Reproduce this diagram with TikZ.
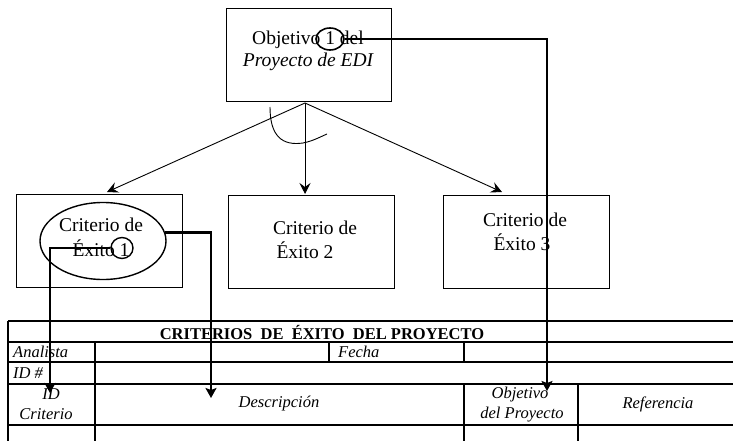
\documentclass[tikz,border=0pt]{standalone}
\usepackage{fontspec}
\setmainfont{Liberation Serif}
\usetikzlibrary{arrows.meta,shapes.geometric}
\begin{document}
\begin{tikzpicture}[x=1pt,y=-1pt,
  box/.style={draw, line width=1pt, inner sep=0, minimum width=165pt, minimum height=93pt},
  thinarrow/.style={line width=0.9pt, -{Stealth[length=11pt,width=11pt,inset=4pt]}},
  thickconn/.style={line width=2.8pt, -{Stealth[length=10pt,width=11pt,inset=2pt]}},
  tline/.style={line width=1.2pt},
  big/.style={font=\fontsize{19.5}{22}\selectfont, inner sep=0},
  tab/.style={font=\fontsize{16.5}{18}\selectfont, inner sep=0},
  mark1/.style={draw, ellipse, line width=1.6pt, inner sep=0},
]
\useasboundingbox (0,0) rectangle (733,441);

% top box
\node[box] (obj) at (308.5,55.5) {};
\node[big] (objt1) at (308,40) {Objetivo 1 del};
\node[big] (objt2) at (308,62) {\itshape Proyecto de EDI};
\node[mark1, minimum width=28pt, minimum height=22pt] (o1) at (330,39) {};

% criterion boxes
\node[box, minimum width=166pt] (c1) at (99,240.5) {};
\node[box, minimum width=166pt] (c2) at (311,242) {};
\node[box, minimum width=166pt] (c3) at (526,241.5) {};

\node[big] (c1a) at (101,225) {Criterio de};
\node[big] (c1b) at (101,248) {Éxito 1};
\node[mark1, minimum width=126pt, minimum height=77pt, line width=1.4pt] (ell) at (103,241) {};
\node[mark1, minimum width=22pt, minimum height=21pt, line width=1.4pt] (e1) at (122,248) {};

\node[big] (c2a) at (315,228) {Criterio de};
\node[big] (c2b) at (305,250) {Éxito 2};
\node[big] (c3a) at (525,220) {Criterio de};
\node[big] (c3b) at (522,242) {Éxito 3};

% arrows from objective
\coordinate (src) at (305,103);
\coordinate (a1) at (107,192);
\coordinate (a2) at (305,194);
\coordinate (a3) at (502,192);
\draw[thinarrow] (src) -- (a1);
\draw[thinarrow] (src) -- (a2);
\draw[thinarrow] (src) -- (a3);
\draw[line width=0.9pt] (270,107) .. controls (270,136) and (282,146) .. (303,143) .. controls (313,141) and (320,137) .. (327,134);

% thick connectors to the table
\coordinate (t1) at (547,391);
\coordinate (t2) at (50,393);
\coordinate (t3) at (211,398);
\draw[thickconn] (o1.east) -| (t1);
\draw[thickconn] (e1.west) -| (t2);
\draw[thickconn] (ell.8) -| (t3);

% table
\draw[tline] (8,321) -- (733,321);
\draw[tline] (8,342) -- (733,342);
\draw[tline] (8,362) -- (733,362);
\draw[tline] (8,384) -- (733,384);
\draw[tline] (8,425) -- (733,425);
\draw[tline] (8,321) -- (8,441);
\draw[tline] (95,342) -- (95,441);
\draw[tline] (329,342) -- (329,362);
\draw[tline] (464,342) -- (464,362);
\draw[tline] (464,384) -- (464,441);
\draw[tline] (578,384) -- (578,441);

\node[tab, font=\fontsize{16.5}{18}\selectfont\bfseries] (title) at (322,332) {CRITERIOS \ DE \ ÉXITO \ DEL PROYECTO};
\node[tab, anchor=west] (an) at (13,352) {\itshape Analista};
\node[tab, anchor=west] (fe) at (338,352) {\itshape Fecha};
\node[tab, anchor=west] (idn) at (13,373) {\itshape ID \#};
\node[tab] (idc1) at (51,394) {\itshape ID};
\node[tab] (idc2) at (46,414) {\itshape Criterio};
\node[tab] (desc) at (279,404) {\itshape Descripción};
\node[tab] (ob1) at (520,395) {\itshape Objetivo};
\node[tab] (ob2) at (522,415) {\itshape del Proyecto};
\node[tab] (ref) at (658,404) {\itshape Referencia};
\end{tikzpicture}
\end{document}
